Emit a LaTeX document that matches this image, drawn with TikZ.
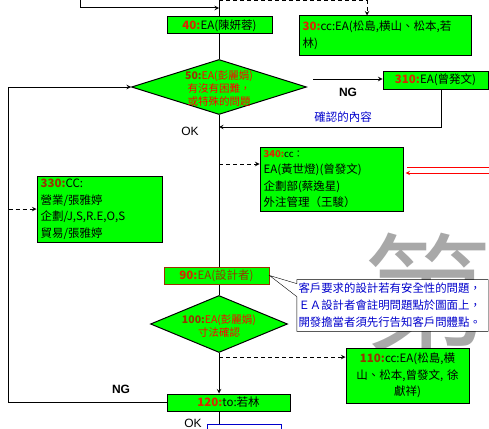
\documentclass[tikz,border=0pt]{standalone}
\usepackage{fontspec}
\setmainfont{Noto Sans CJK TC}
\newfontfamily\latfont{Liberation Sans}
\usepackage{tikz}
\usetikzlibrary{arrows,positioning,shapes.geometric}
\definecolor{eGreen}{HTML}{00FF00}
\definecolor{nRed}{HTML}{D82800}
\definecolor{nBrown}{HTML}{993300}
\definecolor{tRed}{HTML}{FF0000}
\definecolor{tBlue}{HTML}{0000CC}
\definecolor{wmGray}{HTML}{A8A8A8}
\newcommand{\boxfont}{\fontsize{11.5}{16.5}\selectfont}
\newcommand{\diafont}{\fontsize{10.5}{13}\selectfont}
\newcommand{\stepno}[1]{\textcolor{nRed}{\textbf{#1}}}
\newcommand{\diano}[1]{\textcolor{nBrown}{\textbf{#1}}}
\tikzset{box/.style={draw, fill=eGreen, line width=1pt, inner xsep=3pt,
  inner ysep=1pt, font=\boxfont}}
\tikzset{dia/.style={diamond, draw, fill=eGreen, line width=1pt, inner sep=0pt}}
\tikzset{ln/.style={draw, line width=1pt, -stealth}}
\tikzset{l0/.style={draw, line width=1pt}}
\tikzset{dl/.style={draw, line width=1pt, dash pattern=on 4pt off 3pt, -stealth}}
\tikzset{rl/.style={draw, line width=1pt, tRed}}
\tikzset{lbl/.style={font=\latfont\fontsize{12}{12}\selectfont, inner sep=0pt}}
\begin{document}
\begin{tikzpicture}[x=1pt, y=-1pt]
        \useasboundingbox (0,0) rectangle (489,428);
        %% watermark behind
        \node (wm) at (427,292) [text=wmGray, inner sep=0pt,
          font=\fontsize{128}{128}\selectfont] {第};
        %% main column
        \coordinate (top) at (219,0);
        \coordinate (in1) at (80,0);
        \coordinate (j1) at (219,8);
        \coordinate (j0) at (219,1);
        \coordinate (dtop) at (367,1);
        \node (b40) at (219.5,25.5) [box, minimum width=105pt, minimum height=17pt]
          {\stepno{40:}EA(陳妍蓉)};
        \node (b30) at (385,35.5) [box, minimum width=172pt, minimum height=39pt,
          text width=165pt, align=left]
          {\stepno{30:}cc:EA(松島,横山、松本,若\\林)};
        \node (d50) at (219,87) [dia, minimum width=175pt, minimum height=55pt] {};
        \node (d50t) at (219,89) [font=\diafont, text=tRed, align=center, inner sep=0pt]
          {\diano{50:}EA(彭麗娟)\\有沒有困難，\\或特殊的問題};
        \node (b310) at (435.5,80) [box, minimum width=105pt, minimum height=18pt]
          {\stepno{310:}EA(曾発文)};
        \node (ng1) at (348,92) [lbl] {\textbf{NG}};
        \node (chk) at (343,117) [text=tBlue, font=\boxfont, inner sep=0pt] {確認的內容};
        \node (ok1) at (190,131) [lbl] {OK};
        \node (b340) at (331.5,179) [box, minimum width=143pt, minimum height=64pt,
          text width=136pt, align=left, inner ysep=0pt]
          {{\fontsize{9.5}{12}\selectfont\stepno{340:}cc：}\\EA(黃世燈)(曾發文)\\企劃部(蔡逸星)\\外注管理（王駿）};
        \node (b330) at (99.5,209) [box, minimum width=125pt, minimum height=66pt,
          text width=118pt, align=left, inner ysep=0pt]
          {\diano{330:}CC:\\營業/張雅婷\\企劃/J,S,R.E,O,S\\貿易/張雅婷};
        \node (b90) at (216.5,275.5) [box, draw=nBrown, minimum width=105pt, minimum height=17pt]
          {\stepno{90:}\textcolor{nBrown}{EA(設計者)}};
        \node (cl) at (392.5,305.5) [fill=white, minimum width=191pt, minimum height=51pt,
          text width=188pt, inner xsep=1.5pt, align=left, text=tBlue,
          font=\fontsize{11.4}{17}\selectfont]
          {客戶要求的設計若有安全性的問題，\\ＥＡ設計者會註明問題點於圖面上，\\開發擔當者須先行告知客戶問體點。};
        \node (d100) at (219,324) [dia, minimum width=137pt, minimum height=57pt] {};
        \node (d100t) at (219,326) [font=\diafont, text=tRed, align=center, inner sep=0pt]
          {\diano{100:}EA(彭麗娟)\\寸法確認};
        \node (b110) at (407.5,375.5) [box, minimum width=123pt, minimum height=55pt,
          text width=116pt, align=center, inner ysep=0pt]
          {\diano{110:}cc:EA(松島,横\\山、松本,曾發文, 徐\\獻祥)};
        \node (b120) at (228.5,402.5) [box, minimum width=123pt, minimum height=17pt]
          {\stepno{120:}to:若林};
        \node (ng2) at (121,389) [lbl] {\textbf{NG}};
        \node (ok2) at (193,423) [lbl] {OK};
        \node (bnext) at (244,440) [draw=tBlue, line width=1pt, minimum width=74pt,
          minimum height=32pt] {};
        %% helper points
        \coordinate (c441) at (441,127);
        \coordinate (ret) at (219,127);
        \coordinate (ng0) at (313,79);
        \coordinate (j340) at (219,164);
        \coordinate (rt1) at (489,167);
        \coordinate (rt2) at (489,173);
        \coordinate (lp) at (8.5,87);
        \coordinate (j330) at (8.5,209);
        \coordinate (j110) at (219,357);
        %% connectors
        \draw [ln] (in1) |- (j1);
        \draw [dl] (j0) -- (dtop) -- (dtop |- b30.north);
        \draw [l0] (top) -- (top |- b40.north);
        \draw [l0] (b40.south -| d50.north) -- (d50.north);
        \draw [ln] (ng0) -- (ng0 -| b310.west);
        \draw [ln] (c441 |- b310.south) -- (c441) -- (ret);
        \draw [l0] (d50.south) -- (d50.south |- b90.north);
        \draw [dl] (j340) -- (j340 -| b340.west);
        \draw [rl] (rt1) -- ([xshift=3pt]rt1 -| b340.east);
        \draw [rl, -stealth] (rt2) -- ([xshift=2pt]rt2 -| b340.east);
        \draw [ln] (b120.west) -| (lp) -- (d50.west);
        \draw [dl] (j330) -- (b330.west);
        \draw [l0] (d100.north |- b90.south) -- (d100.north);
        \draw (cl.north west) -- (cl.north east) -- (cl.south east) -- (cl.south west)
          -- ([yshift=-17pt]cl.north west) -- (b90.east) -- ([yshift=-4pt]cl.north west) -- cycle;
        \draw [dl] (j110) -- (j110 -| b110.west);
        \draw [ln] (d100.south) -- (d100.south |- b120.north);
        \draw [l0] (d100.south |- b120.south) -- (d100.south |- bnext.north);
    \end{tikzpicture}
\end{document}
